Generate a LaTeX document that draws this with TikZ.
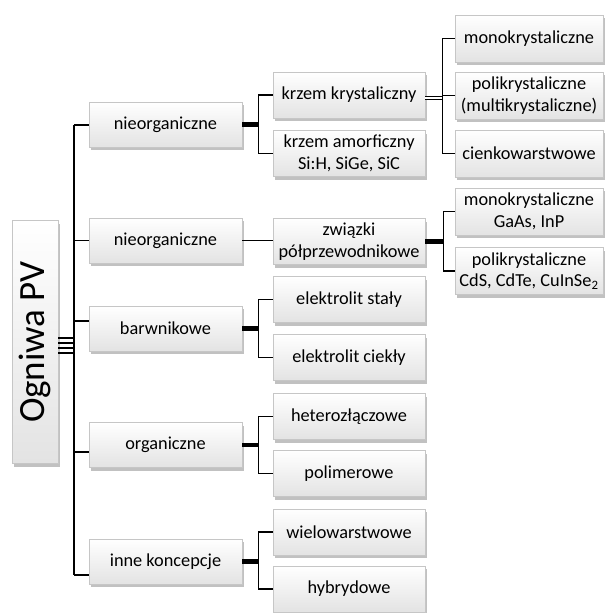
\documentclass[tikz,border=0pt]{standalone}
\usepackage{fontspec}
\setmainfont{Carlito}
\usetikzlibrary{shadows}
\tikzset{
  box/.style={draw=gray!45, line width=0.6pt, top color=white, bottom color=gray!22,
    inner sep=0pt, align=center, font=\fontsize{18.3}{21.5}\selectfont,
    drop shadow={shadow xshift=2pt, shadow yshift=-3pt, opacity=0.35, fill=black!70}},
  lvA/.style={box, minimum width=153, minimum height=45},
  lvB/.style={box, minimum width=152, minimum height=46},
  lvC/.style={box, minimum width=148, minimum height=47},
  rootbox/.style={box, minimum width=46, minimum height=243, font=\fontsize{37}{40}\selectfont},
  conn/.style={draw=black, line width=1.6pt},
  thickconn/.style={draw=black, line width=4.5pt},
  dblconn/.style={draw=black, line width=1.2pt, double=white, double distance=2.2pt}
}
\begin{document}
\begin{tikzpicture}[x=1pt,y=1pt]
\useasboundingbox (0,0) rectangle (605,-613);
% root
\node[rootbox] (root) at (35,-342) {\rotatebox{90}{Ogniwa PV}};
% level 1
\node[lvA] (n1a) at (165.5,-124.5) {nieorganiczne};
\node[lvA] (n1b) at (165.5,-240.5) {nieorganiczne};
\node[lvA] (n1c) at (165.5,-328.5) {barwnikowe};
\node[lvA] (n1d) at (165.5,-445) {organiczne};
\node[lvA] (n1e) at (165.5,-561.5) {inne koncepcje};
% level 2
\node[lvB] (k1) at (349,-95) {krzem krystaliczny};
\node[lvB] (k2) at (349,-153.5) {krzem amorficzny\\Si:H, SiGe, SiC};
\node[lvB] (zw) at (349,-241.5) {związki\\półprzewodnikowe};
\node[lvB] (e1) at (349,-299.5) {elektrolit stały};
\node[lvB] (e2) at (349,-357.5) {elektrolit ciekły};
\node[lvB] (h1) at (349,-416.5) {heterozłączowe};
\node[lvB] (h2) at (349,-473.5) {polimerowe};
\node[lvB] (w1) at (349,-532) {wielowarstwowe};
\node[lvB] (w2) at (349,-589) {hybrydowe};
% level 3
\node[lvC] (m1) at (529,-38.5) {monokrystaliczne};
\node[lvC] (m2) at (529,-95.5) {polikrystaliczne\\(multikrystaliczne)};
\node[lvC] (m3) at (529,-153.5) {cienkowarstwowe};
\node[lvC] (g1) at (529,-211.5) {monokrystaliczne\\GaAs, InP};
\node[lvC] (g2) at (529,-271) {polikrystaliczne\\CdS, CdTe, CuInSe\textsubscript{2}};
% trunk
\coordinate (tT) at (74,-125);
\coordinate (tB) at (74,-575);
\draw[conn] (tT) -- (tB);
\foreach \dy in {4,-1,-6,-11}
  \draw[conn] ([yshift=\dy]root.east) -- ([yshift=\dy]root.east -| tT);
\draw[conn] (tT) -- (n1a.west |- tT);
\draw[conn] (n1b.west) -- (n1b.west -| tT);
\draw[conn] ([yshift=7.5]n1c.west) -- ([yshift=7.5]n1c.west -| tT);
\draw[conn] ([yshift=-7]n1d.west) -- ([yshift=-7]n1d.west -| tT);
\draw[conn] (tB) -- (n1e.west |- tB);
% level1 -> level2
\draw[thickconn] (n1a.east) -- ++(16,0) coordinate (jA);
\draw[conn] (k1.west) -| (jA) |- (k2.west);
\draw[conn] (n1b.east) -- (n1b.east -| zw.west);
\draw[thickconn] (n1c.east) -- ++(16,0) coordinate (jC);
\draw[conn] (e1.west) -| (jC) |- (e2.west);
\draw[thickconn] (n1d.east) -- ++(16,0) coordinate (jD);
\draw[conn] (h1.west) -| (jD) |- (h2.west);
\draw[thickconn] (n1e.east) -- ++(16,0) coordinate (jE);
\draw[conn] (w1.west) -| (jE) |- (w2.west);
% level2 -> level3
\draw[dblconn] ([yshift=-3]k1.east) -- ++(17,0) coordinate (jK);
\draw[conn] (m1.west) -| (jK) |- (m3.west);
\draw[conn] (jK |- m2.west) -- (m2.west);
\draw[thickconn] (zw.east) -- ++(18,0) coordinate (jZ);
\draw[conn] (g1.west) -| (jZ) |- (g2.west);
\end{tikzpicture}
\end{document}
